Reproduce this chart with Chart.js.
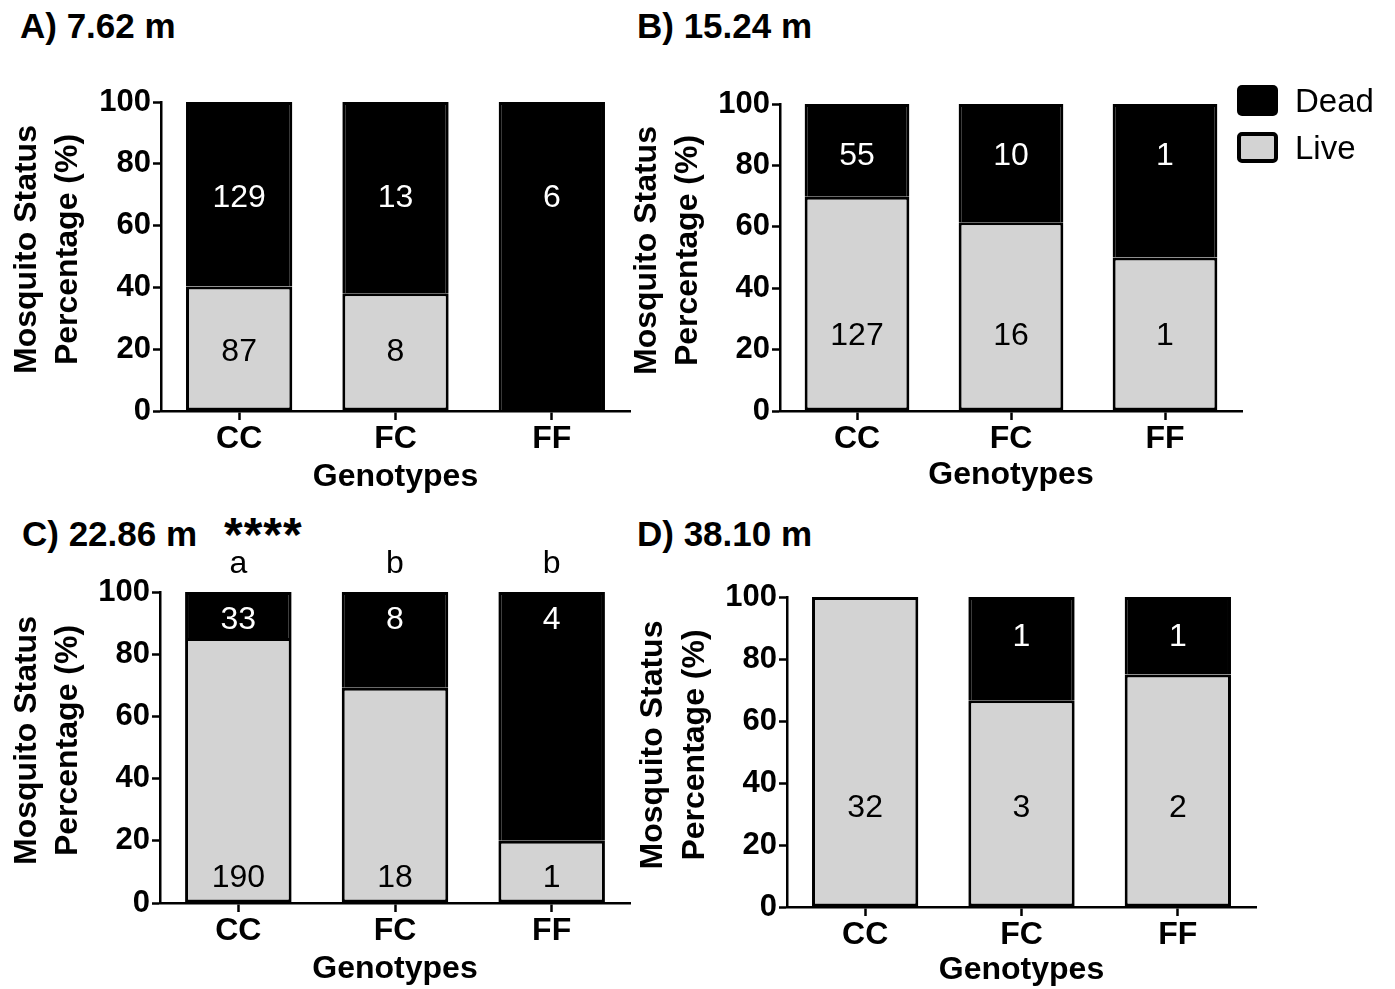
<!DOCTYPE html>
<html>
<head>
<meta charset="utf-8">
<script src="https://cdn.jsdelivr.net/npm/chart.js@4.4.1/dist/chart.umd.min.js"></script>
<style>
  html, body { margin:0; padding:0; background:#fff; width:1395px; height:989px; overflow:hidden; }
  body { position:relative; font-family:"Liberation Sans", Arial, sans-serif; color:#000; }
  .box { position:absolute; }
  .ttl { position:absolute; font-weight:bold; font-size:35px; line-height:35px; white-space:nowrap; }
  .ast { position:absolute; font-weight:bold; font-size:48px; line-height:48px; white-space:nowrap; letter-spacing:1px; }
  .leg { position:absolute; font-size:33px; line-height:33px; white-space:nowrap; }
  .sw { position:absolute; box-sizing:border-box; border-radius:5px; }
</style>
</head>
<body>
<div class="ttl" style="left:20px; top:8px;">A) 7.62 m</div>
<div class="ttl" style="left:637px; top:8px;">B) 15.24 m</div>
<div class="ttl" style="left:22px; top:516px;">C) 22.86 m</div>
<div class="ast" style="left:224px; top:511px;">****</div>
<div class="ttl" style="left:637px; top:516px;">D) 38.10 m</div>

<div class="box" id="wA"><canvas id="cA"></canvas></div>
<div class="box" id="wB"><canvas id="cB"></canvas></div>
<div class="box" id="wC"><canvas id="cC"></canvas></div>
<div class="box" id="wD"><canvas id="cD"></canvas></div>

<div class="sw" style="left:1237px; top:85px; width:41px; height:31px; background:#000;"></div>
<div class="sw" style="left:1237px; top:132px; width:41px; height:31px; background:#d3d3d3; border:4px solid #000;"></div>
<div class="leg" style="left:1295px; top:84px;">Dead</div>
<div class="leg" style="left:1295px; top:131px;">Live</div>

<script>
// ---------- data ----------
const genotypes = ['CC', 'FC', 'FF'];
const yTickValues = [0, 20, 40, 60, 80, 100];
const seriesNames = ['Live', 'Dead'];
const yTitleLines = ['Mosquito Status', 'Percentage (%)'];
const xTitle = 'Genotypes';

// Panel A) 7.62 m  (percent)
const liveA = [40.3, 38.1, 0];
const deadA = [59.7, 61.9, 100];
const liveCountA = ['87', '8', null];
const deadCountA = ['129', '13', '6'];

// Panel B) 15.24 m
const liveB = [69.8, 61.5, 50];
const deadB = [30.2, 38.5, 50];
const liveCountB = ['127', '16', '1'];
const deadCountB = ['55', '10', '1'];

// Panel C) 22.86 m
const liveC = [85.2, 69.2, 20];
const deadC = [14.8, 30.8, 80];
const liveCountC = ['190', '18', '1'];
const deadCountC = ['33', '8', '4'];
const lettersC = ['a', 'b', 'b'];

// Panel D) 38.10 m
const liveD = [100, 66.7, 75];
const deadD = [0, 33.3, 25];
const liveCountD = ['32', '3', '2'];
const deadCountD = [null, '1', '1'];

// ---------- layout / style ----------
const FONT = '"Liberation Sans", Arial, sans-serif';
const LIVE_COLOR = '#d3d3d3';
const DEAD_COLOR = '#000000';

const panels = [
  { canvas: 'cA', wrap: 'wA', rect: {left:0, top:0, width:660, height:500},
    area: {left:161, top:102, right:630, bottom:411}, xBottom: 496, titleX: [27, 68],
    live: liveA, dead: deadA, liveN: liveCountA, deadN: deadCountA, liveAt: 19, deadAt: 69 },
  { canvas: 'cB', wrap: 'wB', rect: {left:620, top:0, width:660, height:500},
    area: {left:780, top:104, right:1242, bottom:411}, xBottom: 494, titleX: [647, 688],
    live: liveB, dead: deadB, liveN: liveCountB, deadN: deadCountB, liveAt: 24.5, deadAt: 83 },
  { canvas: 'cC', wrap: 'wC', rect: {left:0, top:490, width:660, height:499},
    area: {left:160, top:592, right:630, bottom:903}, xBottom: 988, titleX: [27, 68],
    live: liveC, dead: deadC, liveN: liveCountC, deadN: deadCountC, liveAt: 8, deadAt: 91, letters: lettersC },
  { canvas: 'cD', wrap: 'wD', rect: {left:620, top:490, width:660, height:499},
    area: {left:787, top:597, right:1256, bottom:907}, xBottom: 989, titleX: [653, 695],
    live: liveD, dead: deadD, liveN: liveCountD, deadN: deadCountD, liveAt: 32, deadAt: 87 }
];

const countLabels = {
  id: 'countLabels',
  afterDatasetsDraw(chart, args, opts) {
    const ctx = chart.ctx, xs = chart.scales.x, ys = chart.scales.y;
    ctx.save();
    ctx.textAlign = 'center';
    ctx.textBaseline = 'middle';
    ctx.font = '32px ' + FONT;
    (opts.items || []).forEach(item => {
      ctx.fillStyle = item.color;
      item.labels.forEach((t, i) => {
        if (t == null) return;
        ctx.fillText(t, xs.getPixelForValue(i), ys.getPixelForValue(item.at));
      });
    });
    if (opts.letters) {
      ctx.fillStyle = '#000';
      opts.letters.forEach((t, i) => {
        ctx.fillText(t, xs.getPixelForValue(i), ys.getPixelForValue(100) - 28);
      });
    }
    // y-axis title (two lines, rotated)
    if (opts.yTitle) {
      const ca = chart.chartArea;
      const cy = (ca.top + ca.bottom) / 2 - 7;
      ctx.font = 'bold 32px ' + FONT;
      ctx.fillStyle = '#000';
      opts.yTitle.lines.forEach((line, k) => {
        ctx.save();
        ctx.translate(opts.yTitle.x[k], cy);
        ctx.rotate(-Math.PI / 2);
        ctx.fillText(line, 0, 0);
        ctx.restore();
      });
    }
    ctx.restore();
  }
};

Chart.defaults.color = '#000';
Chart.defaults.font.family = FONT;

panels.forEach(p => {
  const w = document.getElementById(p.wrap);
  w.style.left = p.rect.left + 'px';
  w.style.top = p.rect.top + 'px';
  w.style.width = p.rect.width + 'px';
  w.style.height = p.rect.height + 'px';

  const yWidth = p.area.left - p.rect.left;
  const xHeight = p.xBottom - p.area.bottom;

  new Chart(document.getElementById(p.canvas), {
    type: 'bar',
    data: {
      labels: genotypes,
      datasets: [
        { label: seriesNames[0], data: p.live, backgroundColor: LIVE_COLOR,
          borderColor: '#000', borderWidth: 3, borderSkipped: false },
        { label: seriesNames[1], data: p.dead, backgroundColor: DEAD_COLOR,
          borderColor: '#000', borderWidth: 3, borderSkipped: 'start' }
      ]
    },
    options: {
      responsive: true,
      maintainAspectRatio: false,
      animation: false,
      layout: {
        padding: {
          left: 0,
          top: p.area.top - p.rect.top,
          right: p.rect.left + p.rect.width - p.area.right,
          bottom: p.rect.top + p.rect.height - p.xBottom
        }
      },
      datasets: { bar: { categoryPercentage: 1.0, barPercentage: 0.68 } },
      plugins: {
        legend: { display: false },
        tooltip: { enabled: false },
        countLabels: {
          items: [
            { labels: p.deadN, at: p.deadAt, color: '#fff' },
            { labels: p.liveN, at: p.liveAt, color: '#000' }
          ],
          letters: p.letters,
          yTitle: { lines: yTitleLines, x: p.titleX.map(v => v - p.rect.left) }
        }
      },
      scales: {
        x: {
          stacked: true,
          offset: true,
          grid: { display: true, drawOnChartArea: false, drawTicks: true, tickLength: 9,
                  tickWidth: 2.5, tickColor: '#000', offset: false },
          border: { display: true, color: '#000', width: 2.5 },
          ticks: { font: { size: 32, weight: 'bold' }, padding: 0, maxRotation: 0 },
          title: { display: true, text: xTitle, font: { size: 32, weight: 'bold' }, padding: 0 },
          afterFit(s) { s.height = xHeight; }
        },
        y: {
          stacked: true,
          min: 0, max: 100,
          grid: { display: true, drawOnChartArea: false, drawTicks: true, tickLength: 8,
                  tickWidth: 2.5, tickColor: '#000' },
          border: { display: true, color: '#000', width: 2.5 },
          ticks: { font: { size: 31, weight: 'bold' }, padding: 2 },
          afterBuildTicks(s) { s.ticks = yTickValues.map(v => ({ value: v })); },
          title: { display: false },
          afterFit(s) { s.width = yWidth; }
        }
      }
    },
    plugins: [countLabels]
  });
});
</script>
</body>
</html>
